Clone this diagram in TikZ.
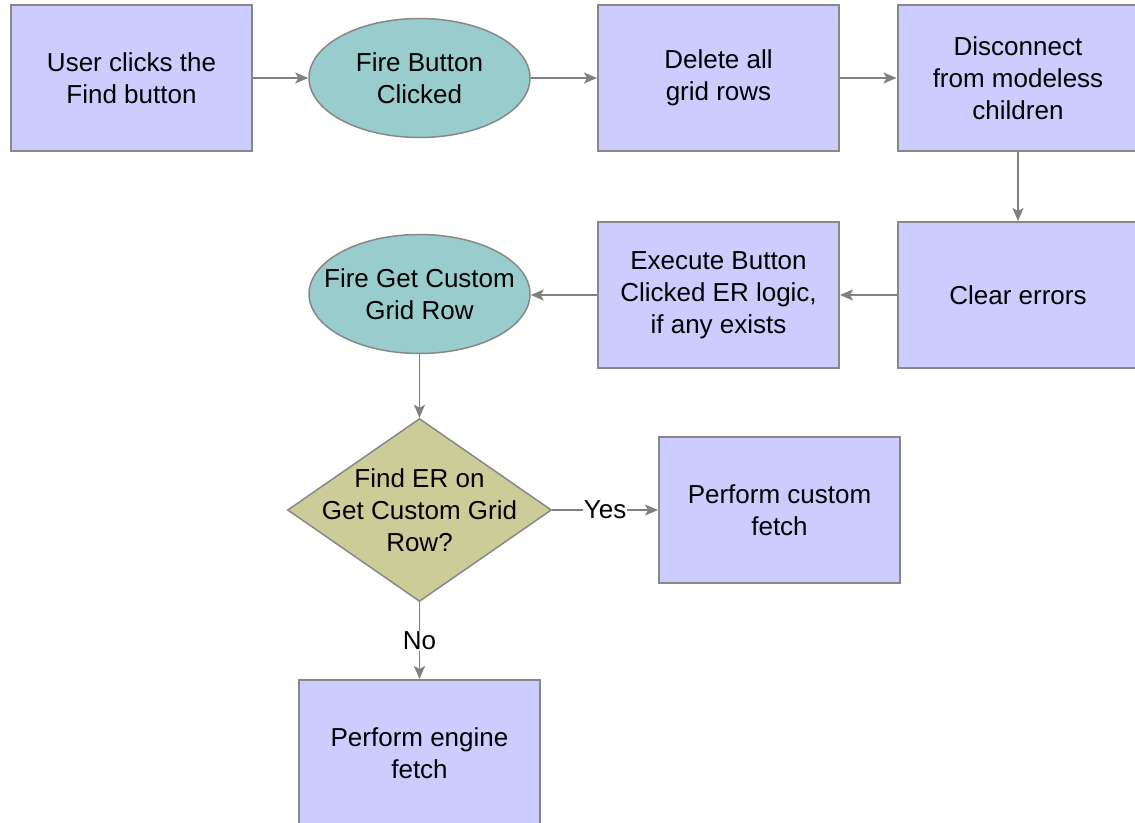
\documentclass[tikz,border=0pt]{standalone}
\usepackage{fontspec}
\setmainfont{Liberation Sans}
\usetikzlibrary{shapes.geometric,arrows.meta}
\definecolor{boxfill}{HTML}{CCCCFF}
\definecolor{ellfill}{HTML}{99CCCC}
\definecolor{diafill}{HTML}{CCCC99}
\definecolor{edgegray}{HTML}{888888}
\definecolor{conngray}{HTML}{808080}
\begin{document}
\begin{tikzpicture}[x=1pt,y=-1pt,
  every node/.style={font=\fontsize{26}{32}\selectfont, align=center, text=black},
  procbox/.style={draw=edgegray, line width=2pt, fill=boxfill, minimum width=241pt, minimum height=146pt, inner sep=0pt},
  event/.style={ellipse, draw=edgegray, line width=1.5pt, fill=ellfill, minimum width=221pt, minimum height=119pt, inner sep=0pt},
  decision/.style={diamond, draw=edgegray, line width=1.5pt, fill=diafill, minimum width=264pt, minimum height=183pt, inner sep=0pt},
  flow/.style={draw=conngray, line width=1.5pt, -{Stealth[length=13pt,width=11pt,inset=3pt]}},
  lbl/.style={fill=white, inner sep=1pt}]
\useasboundingbox (0,0) rectangle (1135,822);
\fill[white] (0,0) rectangle (1135,822);

\node[procbox] (b1) at (131.5,78) {User clicks the\\Find button};
\node[event] (e1) at (419.5,78) [label={center:{Fire Button\\Clicked}}] {};
\node[procbox] (b3) at (718.5,78) {Delete all\\grid rows};
\node[procbox] (b4) at (1018,78) {Disconnect\\from modeless\\children};
\node[procbox] (b5) at (1018,295) {Clear errors};
\node[procbox] (b6) at (718.5,295) {Execute Button\\Clicked ER logic,\\if any exists};
\node[event] (e2) at (419.5,294) [label={center:{Fire Get Custom\\Grid Row}}] {};
\node[decision] (d) at (419.5,510) [label={center:{Find ER on\\Get Custom Grid\\Row?}}] {};
\node[procbox] (b9) at (779.5,510) {Perform custom\\fetch};
\node[procbox] (b10) at (419.5,753) {Perform engine\\fetch};

\draw[flow] (b1.east) -- (e1.west);
\draw[flow] (e1.east) -- (b3.west);
\draw[flow] (b3.east) -- (b4.west);
\draw[flow] (b4.south) -- (b5.north);
\draw[flow] (b5.west) -- (b6.west -| b5.west) -- (b6.east);
\draw[flow] (b6.west) -- (e2.east |- b6.west);
\draw[flow] (e2.south) -- (d.north);
\draw[flow] (d.east) -- node[lbl] {Yes} (b9.west);
\draw[flow] (d.south) -- node[lbl] {No} (b10.north);
\end{tikzpicture}
\end{document}
